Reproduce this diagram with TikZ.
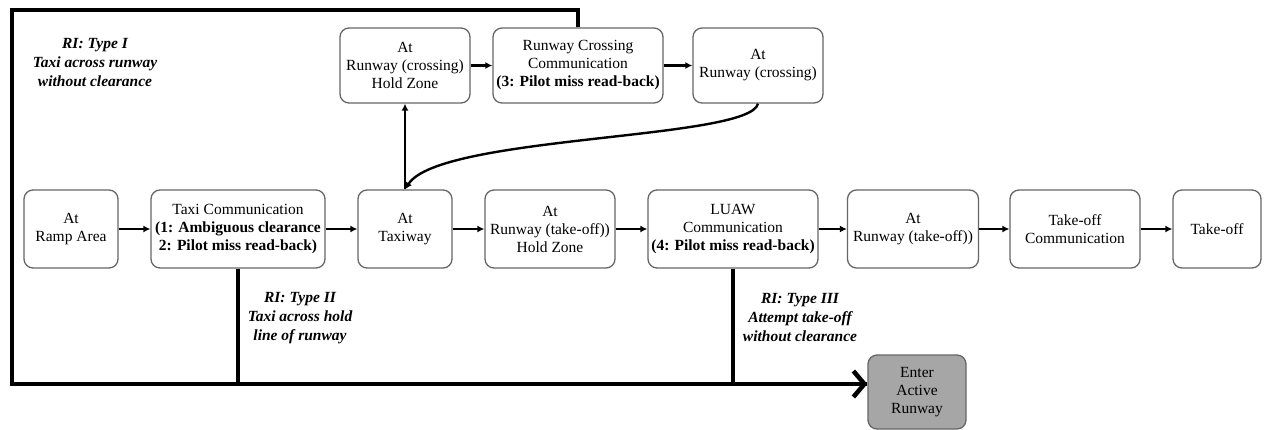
\documentclass[tikz,border=0pt]{standalone}
\usepackage{fontspec}
\setmainfont{Liberation Serif}
\usetikzlibrary{arrows.meta}
\begin{document}
\begin{tikzpicture}[x=1pt,y=-1pt,
  box/.style={draw=black!60, line width=1.3pt, rounded corners=9pt, fill=white,
    align=center, font=\fontsize{15.5}{18}\selectfont, inner sep=0pt, minimum height=78pt},
  topbox/.style={box, minimum height=75pt},
  arr/.style={line width=2.4pt, -{Latex[length=7pt,width=7pt]}},
  bigline/.style={line width=4.5pt, line join=miter},
  rilabel/.style={font=\fontsize{15.5}{19}\selectfont\bfseries\itshape, align=center, inner sep=0pt}]
\useasboundingbox (0,0) rectangle (1267,429);
\fill[white] (0,0) rectangle (1267,429);

% main row
\node[box, minimum width=94pt] (ramp) at (71,229) {At\\Ramp Area};
\node[box, minimum width=174pt] (taxicomm) at (238,229) {Taxi Communication\\\textbf{(1: Ambiguous clearance}\\\textbf{2: Pilot miss read-back)}};
\node[box, minimum width=94pt] (taxiway) at (405,229) {At\\Taxiway};
\node[box, minimum width=130pt] (hold) at (550,229) {At\\Runway (take-off))\\Hold Zone};
\node[box, minimum width=170pt] (luaw) at (733,229) {LUAW\\Communication\\\textbf{(4: Pilot miss read-back)}};
\node[box, minimum width=131pt] (atrwy) at (913,229) {At\\Runway (take-off))};
\node[box, minimum width=130pt] (tocomm) at (1075,229) {Take-off\\Communication};
\node[box, minimum width=88pt] (takeoff) at (1217,229) {Take-off};

% top row
\node[topbox, minimum width=130pt] (holdx) at (405,65.5) {At\\Runway (crossing)\\Hold Zone};
\node[topbox, minimum width=170pt] (rcc) at (578,65.5) {Runway Crossing\\Communication\\\textbf{(3: Pilot miss read-back)}};
\node[topbox, minimum width=130pt] (atcross) at (758,65.5) {At\\Runway (crossing)};

% enter
\node[box, minimum width=98pt, minimum height=74pt, fill=black!35] (enter) at (917,392) {Enter\\Active\\Runway};

% arrows main row
\draw[arr] (ramp) -- (taxicomm);
\draw[arr] (taxicomm) -- (taxiway);
\draw[arr] (taxiway) -- (hold);
\draw[arr] (hold) -- (luaw);
\draw[arr] (luaw) -- (atrwy);
\draw[arr] (atrwy) -- (tocomm);
\draw[arr] (tocomm) -- (takeoff);
% top row
\draw[arr] (holdx) -- (rcc);
\draw[arr] (rcc) -- (atcross);
\draw[arr] (taxiway.north) -- (holdx.south);
\draw[arr] (atcross.south) .. controls (750,140) and (440,135) .. (taxiway.north);

% thick RI lines
\draw[bigline] (rcc.north) -- (rcc.north |- 0,10) -- (12,10) -- (12,384)
  -- (enter.west |- 0,384);
\draw[line width=4.5pt, -{Straight Barb[length=11pt,width=26pt]}] (800,384) -- (enter.west |- 0,384);
\draw[bigline] (taxicomm.south) -- (taxicomm.south |- 0,384);
\draw[bigline] (luaw.south) -- (luaw.south |- 0,384);

% labels
\node[rilabel] (t1) at (95,63) {RI: Type I\\Taxi across runway\\without clearance};
\node[rilabel] (t2) at (300,318) {RI: Type II\\Taxi across hold\\line of runway};
\node[rilabel] (t3) at (800,318) {RI: Type III\\Attempt take-off\\without clearance};
\end{tikzpicture}
\end{document}
